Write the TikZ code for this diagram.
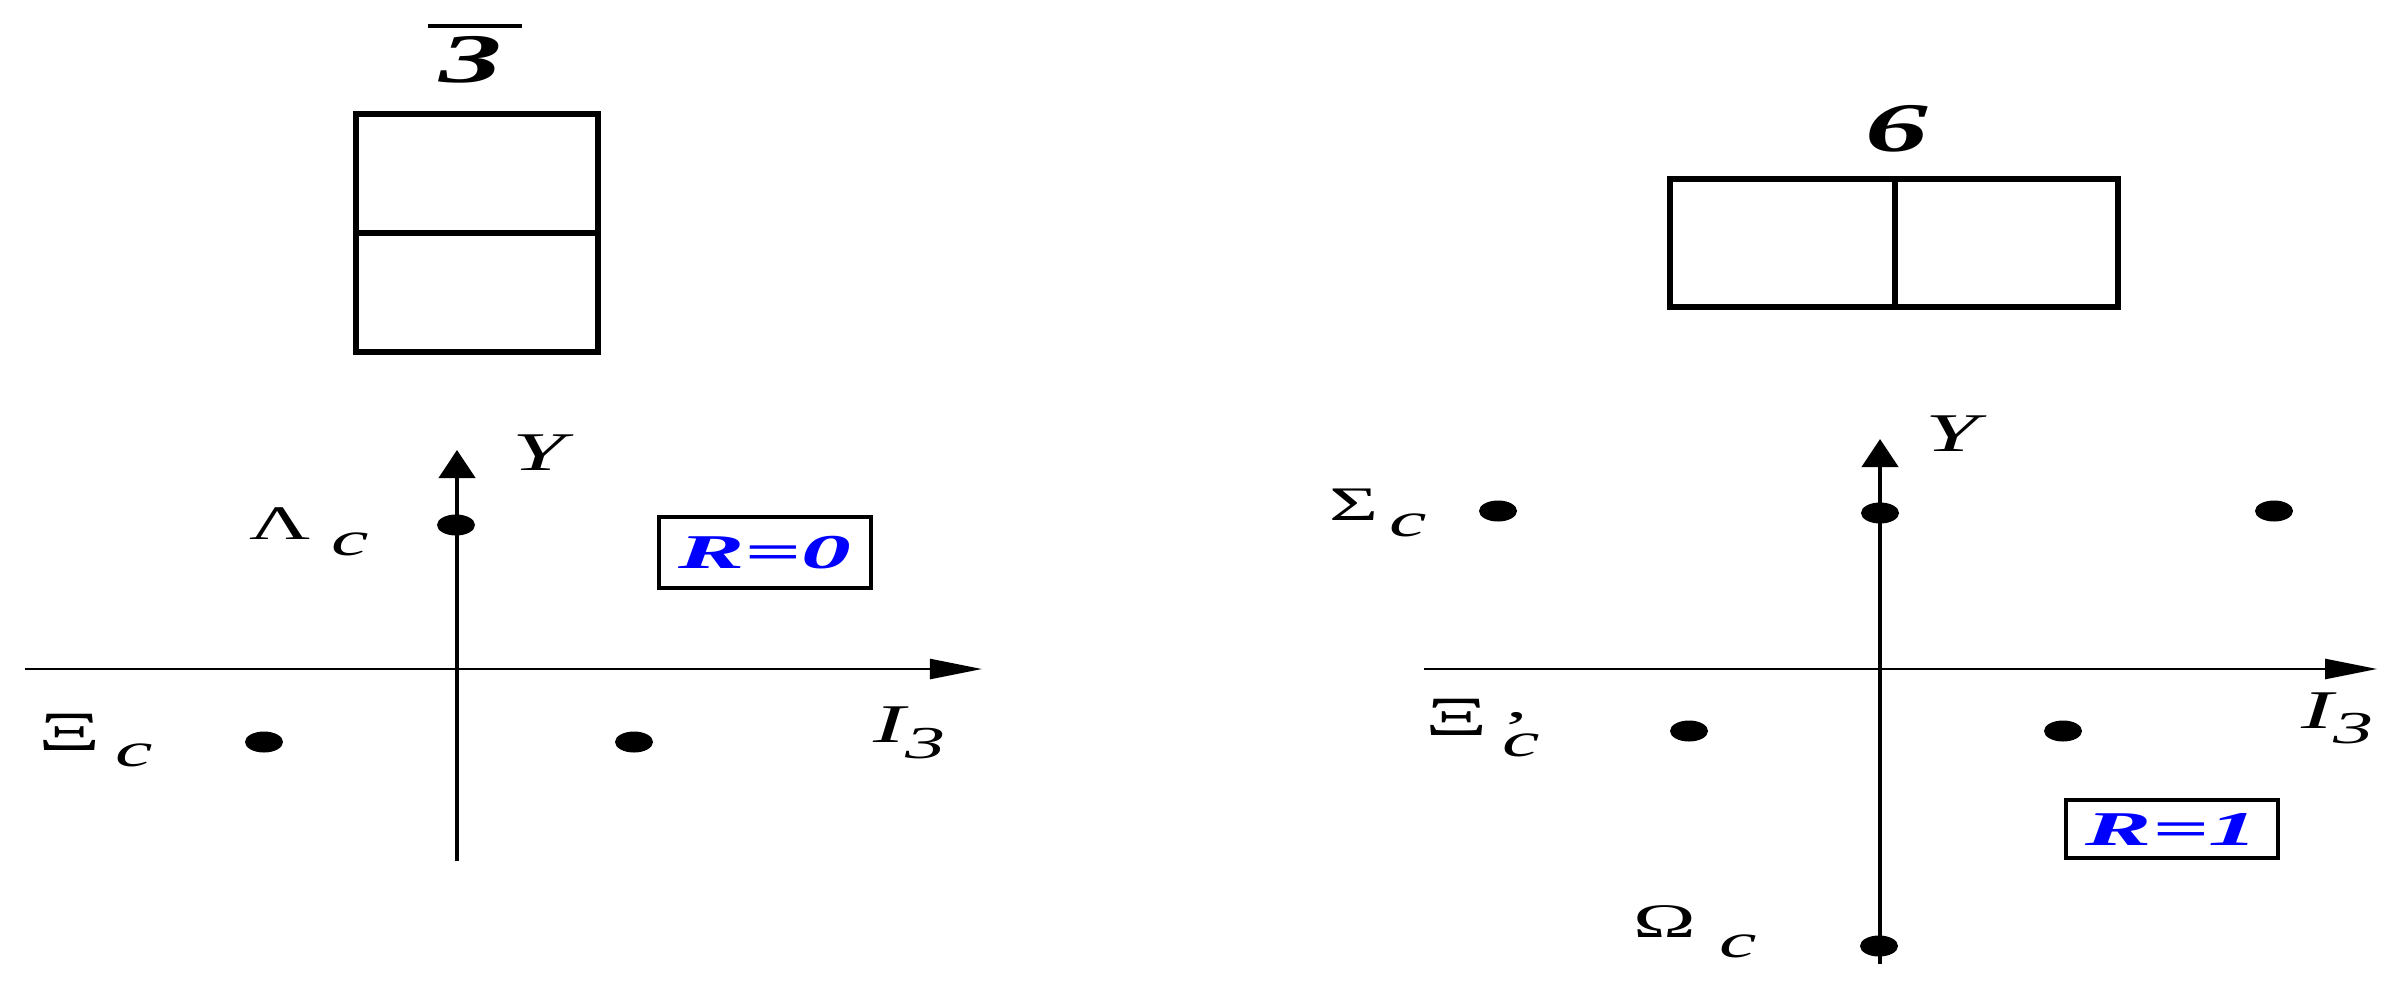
\documentclass[tikz,border=0pt]{standalone}
\usepackage{fontspec}
\setmainfont{Liberation Serif}
\usetikzlibrary{arrows.meta,shapes.geometric}

% the picture is stretched sideways, so is its text
\newcommand{\wtxt}[2][1.75]{\scalebox{#1}[1]{#2}}
\newcommand{\csub}[1][0.16cm]{\raisebox{-#1}{\itshape c}}
\newcommand{\bartxt}[1]{\vbox{\hrule height 0.04cm\vskip 0.09cm\hbox{\hspace{0.12cm}#1\hspace{0.2cm}}}}

\begin{document}
\begin{tikzpicture}[x=0.01cm, y=-0.01cm,
    tabcell/.style={draw, line width=1.6pt, inner sep=0pt},
    statedot/.style={ellipse, fill, inner sep=0pt, minimum width=0.38cm, minimum height=0.21cm},
    plabel/.style={anchor=base west, inner sep=0pt, font=\fontsize{13.7}{16}\selectfont},
    axlabel/.style={anchor=base west, inner sep=0pt, font=\fontsize{15.5}{18}\selectfont\itshape},
    reptitle/.style={anchor=base, inner sep=0pt, font=\fontsize{19.8}{24}\selectfont\bfseries\itshape},
    rbox/.style={draw, line width=1.2pt, inner sep=0pt, text=blue, font=\fontsize{13.8}{16}\selectfont\bfseries\itshape},
    axisx/.style={line width=0.7pt, -{Triangle[length=0.52cm,width=0.2cm]}},
    axisy/.style={line width=1.3pt, -{Triangle[length=0.28cm,width=0.36cm]}}]
\useasboundingbox (0,0) rectangle (2395,982);

% anti-triplet
\node[reptitle] (t3) at (475,83) {\bartxt{\wtxt[1.8]{3}}};
\node[tabcell, minimum width=2.42cm, minimum height=1.19cm] (a1) at (477,173.5) {};
\node[tabcell, minimum width=2.42cm, minimum height=1.19cm] (a2) at (477,292.5) {};

\coordinate (xl0) at (25,669);
\coordinate (xr0) at (982,669);
\coordinate (yb0) at (457,861);
\coordinate (yt0) at (457,450);
\draw[axisx] (xl0) -- (xr0);
\draw[axisy] (yb0) -- (yt0);
\node[axlabel] (ylab0) at (512,470) {\wtxt{Y}};
\node[axlabel] (ilab0) at (873,742) {\wtxt{I\raisebox{-0.16cm}{\fontsize{13}{15}\selectfont 3}}};

\node[statedot] (lamc) at (456,525) {};
\node[statedot] (xil) at (264,742) {};
\node[statedot] (xir) at (634,742) {};
\node[plabel] (lamlbl) at (249,539) {\wtxt{Λ\hspace{0.12cm}\csub}};
\node[plabel] (xilbl) at (38,750) {\wtxt{\scalebox{1.15}{Ξ}\hspace{0.08cm}\csub}};
\node[rbox, minimum width=2.12cm, minimum height=0.71cm] (r0) at (765,552.5) {\wtxt[2.05]{R=0}};

% sextet
\node[reptitle] (t6) at (1897,152) {\wtxt[1.8]{6}};
\node[tabcell, minimum width=2.25cm, minimum height=1.28cm] (b1) at (1782.5,243) {};
\node[tabcell, minimum width=2.23cm, minimum height=1.28cm] (b2) at (2006.5,243) {};

\coordinate (xl1) at (1424,669);
\coordinate (xr1) at (2377,669);
\coordinate (yb1) at (1880,964);
\coordinate (yt1) at (1880,439);
\draw[axisx] (xl1) -- (xr1);
\draw[axisy] (yb1) -- (yt1);
\node[axlabel] (ylab1) at (1925,451) {\wtxt{Y}};
\node[axlabel] (ilab1) at (2301,728) {\wtxt{I\raisebox{-0.15cm}{\fontsize{13}{15}\selectfont 3}}};

\node[statedot] (sig1) at (1498,511) {};
\node[statedot] (sig2) at (1880,513) {};
\node[statedot] (sig3) at (2274,511) {};
\node[statedot] (xip1) at (1689,731) {};
\node[statedot] (xip2) at (2063,731) {};
\node[statedot] (omc) at (1879,946) {};
\node[plabel] (siglbl) at (1329,520) {\wtxt{Σ\hspace{0.06cm}\csub}};
\node[plabel] (xiplbl) at (1425,735) {\wtxt{\scalebox{1.15}{Ξ}\hspace{0.08cm}\rlap{\csub[0.21cm]}\raisebox{-0.09cm}{’}}};
\node[plabel] (omlbl) at (1633,937) {\wtxt{Ω\hspace{0.13cm}\csub[0.2cm]}};
\node[rbox, minimum width=2.12cm, minimum height=0.58cm] (r1) at (2172,829) {\wtxt[2.05]{R=1}};
\end{tikzpicture}
\end{document}
